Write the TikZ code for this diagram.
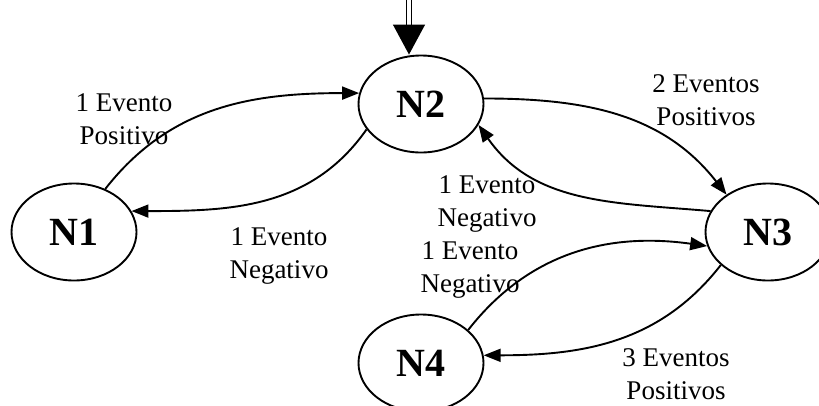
\documentclass[tikz,border=0pt]{standalone}
\usepackage{fontspec}
\setmainfont{Liberation Serif}
\usetikzlibrary{
    arrows.meta,
    shapes.geometric
}
\tikzset{
    state/.style={
        draw,
        ellipse,
        line width=1.9pt,
        minimum width=125pt,
        minimum height=97pt,
        inner sep=0pt,
        font=\fontsize{40}{48}\selectfont\bfseries
    },
    trans/.style={
        -{Triangle[length=17pt, width=13pt]},
        line width=1.9pt
    },
    event label/.style={
        align=center,
        inner sep=0pt,
        font=\fontsize{27}{33}\selectfont
    },
    entry line/.style={
        double,
        double distance=3.5pt,
        line width=1.3pt
    },
    entry tip/.style={
        -{Triangle[length=30pt, width=32pt]},
        line width=1.3pt
    }
}

\begin{document}
\begin{tikzpicture}[x=1pt, y=1pt]

    \useasboundingbox (0,0) rectangle (819,-405);

    % -------------------------------------------------------------------------
    % States.
    % -------------------------------------------------------------------------
    \node[state] (n1) at (74,-232) {N1};
    \node[state] (n2) at (421,-104) {N2};
    \node[state] (n3) at (768,-232) {N3};
    \node[state] (n4) at (421,-363) {N4};

    % -------------------------------------------------------------------------
    % Entry into N2.
    % -------------------------------------------------------------------------
    \coordinate (source) at (409,0);
    \coordinate (neck) at (409,-28);
    \draw[entry line] (source) -- (neck);
    \draw[entry tip] (neck) -- (neck |- n2.north);

    % -------------------------------------------------------------------------
    % Transitions.
    % -------------------------------------------------------------------------
    \draw[trans] (n1.54) to[out=52, in=180] (n2.170);
    \draw[trans] (n2.205) to[out=235, in=0] (n1.20);

    \draw[trans] (n2.5) to[out=0, in=128] (n3.138);
    \draw[trans] (n3.160) to[out=175, in=-55] (n2.340);

    \draw[trans] (n4.35) to[out=52, in=172] (n3.193);
    \draw[trans] (n3.215) to[out=232, in=0] (n4.7);

    % -------------------------------------------------------------------------
    % Event labels.
    % -------------------------------------------------------------------------
    \node[event label] (pos12) at (124,-119) {1 Evento\\Positivo};
    \node[event label] (neg21) at (279,-256) {1 Evento\\Negativo};
    \node[event label] (pos23) at (706,-100) {2 Eventos\\Positivos};
    \node[event label] (neg32) at (487,-204) {1 Evento\\Negativo};
    \node[event label] (neg43) at (470,-270) {1 Evento\\Negativo};
    \node[event label] (pos34) at (676,-374) {3 Eventos\\Positivos};

\end{tikzpicture}
\end{document}
